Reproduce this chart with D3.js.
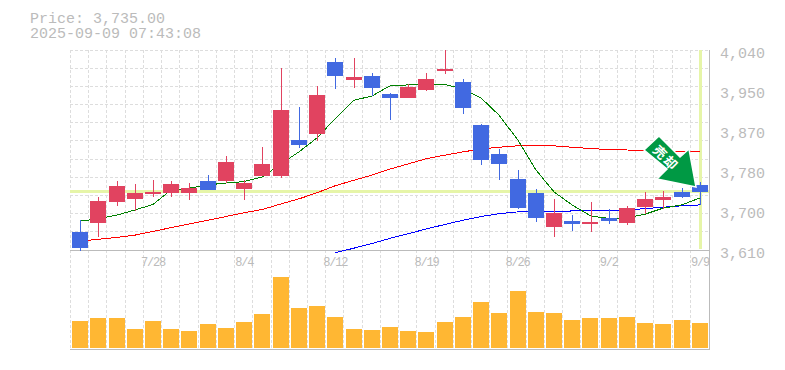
<!DOCTYPE html>
<html>

<head>
	<meta charset="utf-8" />
	<title>Price chart</title>
	<script src="https://d3js.org/d3.v7.min.js"></script>
	<style>
		html, body {
			margin: 0;
			padding: 0;
			background: #fff;
		}

		svg {
			display: block;
		}

		text {
			font-family: 'Liberation Mono', monospace;
			fill: #bbb;
		}

		.axis path, .axis line {
			display: none;
		}

		.grid {
			stroke: #ddd;
			stroke-dasharray: 3 2;
			shape-rendering: crispEdges;
		}

		.ma, .wick {
			shape-rendering: crispEdges;
		}
	</style>
</head>

<body>
	<div id="chart"></div>

	<script>
		var dates = ['7/22', '7/23', '7/24', '7/25', '7/28', '7/29', '7/30', '7/31', '8/1', '8/4', '8/5', '8/6', '8/7', '8/8', '8/12', '8/13', '8/14', '8/15', '8/18', '8/19', '8/20', '8/21', '8/22', '8/25', '8/26', '8/27', '8/28', '8/29', '9/1', '9/2', '9/3', '9/4', '9/5', '9/8', '9/9'];
		var dateTicks = ['7/28', '8/4', '8/12', '8/19', '8/26', '9/2', '9/9'];
		var priceTicks = [3610, 3696, 3782, 3868, 3954, 4040];

		var open = [3649, 3668, 3713, 3720, 3730, 3733, 3733, 3758, 3758, 3741, 3769, 3769, 3847, 3859, 4014, 3976, 3984, 3945, 3937, 3954, 3995, 3971, 3879, 3816, 3763, 3733, 3659, 3672, 3666, 3679, 3668, 3702, 3718, 3735, 3750];
		var close = [3614, 3715, 3748, 3733, 3735, 3752, 3743, 3739, 3799, 3754, 3795, 3911, 3836, 3943, 3984, 3982, 3958, 3937, 3960, 3978, 3999, 3915, 3804, 3795, 3700, 3679, 3690, 3666, 3670, 3672, 3700, 3720, 3724, 3724, 3735];
		var high = [3675, 3724, 3758, 3752, 3761, 3758, 3754, 3771, 3812, 3761, 3831, 4001, 3917, 3963, 4023, 4023, 3991, 3948, 3967, 3991, 4040, 3978, 3881, 3827, 3782, 3741, 3720, 3685, 3713, 3698, 3705, 3735, 3737, 3743, 3756];
		var low = [3608, 3638, 3705, 3694, 3724, 3724, 3718, 3739, 3754, 3718, 3769, 3765, 3829, 3844, 3956, 3958, 3941, 3890, 3937, 3952, 3988, 3902, 3793, 3761, 3698, 3670, 3638, 3651, 3649, 3666, 3664, 3687, 3698, 3722, 3707];

		var maShort = [3672, 3677, 3685, 3696, 3708, 3739, 3743, 3750, 3754, 3757, 3767, 3795, 3821, 3851, 3892, 3932, 3941, 3963, 3965, 3965, 3966, 3956, 3937, 3900, 3846, 3782, 3735, 3707, 3683, 3678, 3679, 3687, 3700, 3707, 3722];
		var maMid = [3629, 3633, 3637, 3642, 3650, 3658, 3666, 3674, 3682, 3690, 3697, 3709, 3720, 3733, 3748, 3760, 3771, 3784, 3795, 3806, 3814, 3821, 3827, 3831, 3834, 3834, 3834, 3831, 3828, 3826, 3825, 3824, 3823, 3822, 3821];
		var maLong = [null, null, null, null, null, null, null, null, null, null, null, null, null, null, 3604, 3614, 3624, 3635, 3645, 3655, 3665, 3674, 3682, 3688, 3692, 3692, 3692, 3694, 3695, 3695, 3696, 3699, 3702, 3705, 3707];

		var volume = [27, 30, 30, 19, 27, 19, 17, 24, 20, 26, 34, 71, 40, 42, 31, 19, 18, 21, 17, 16, 26, 31, 46, 35, 57, 36, 35, 28, 30, 30, 31, 25, 24, 28, 25];

		var priceText = 'Price: 3,735.00';
		var timeText = '2025-09-09 07:43:08';
		var lastPrice = 3735;
		var signalText = '売却';

		var w = 785;
		var h = 370;
		var left = 71;
		var right = 709;
		var red = '#e14360';
		var blue = '#4169e1';
		var lime = '#e6f5a8';

		var svg = d3.select('#chart')
			.append('svg')
			.attr('width', w)
			.attr('height', h);

		var x = d3.scaleBand()
			.domain(dates)
			.range([left, right])
			.paddingInner(0.12)
			.paddingOuter(0.06);

		var y = d3.scaleLinear()
			.domain([3610, 4040])
			.range([250, 50]);

		var yVol = d3.scaleLinear()
			.domain([0, 71])
			.range([348, 277]);

		var mid = function(d) {
			return Math.round(x(d) + x.bandwidth() / 2);
		};

		// grid, 11 rows above and one line per bar across both panels
		var step = (right - left) / dates.length;
		var rows = d3.range(0, 11);
		svg.selectAll('line.row')
			.data(rows)
			.join('line')
			.attr('class', 'grid row')
			.attr('x1', left - 1)
			.attr('x2', right)
			.attr('y1', function(d) {
				return y.range()[1] + d * 200 / 11;
			})
			.attr('y2', function(d) {
				return y.range()[1] + d * 200 / 11;
			});

		svg.selectAll('line.col')
			.data(d3.range(0, dates.length))
			.join('line')
			.attr('class', 'grid col')
			.attr('x1', function(d) {
				return left - 0.5 + d * step;
			})
			.attr('x2', function(d) {
				return left - 0.5 + d * step;
			})
			.attr('y1', 50)
			.attr('y2', 350);

		// current price cross
		svg.append('line')
			.attr('x1', left - 1)
			.attr('x2', right + 1)
			.attr('y1', Math.round(y(lastPrice)) - 0.5)
			.attr('y2', Math.round(y(lastPrice)) - 0.5)
			.attr('stroke', lime)
			.attr('stroke-width', 3);

		svg.append('line')
			.attr('x1', mid(dates[34]) + 0.5)
			.attr('x2', mid(dates[34]) + 0.5)
			.attr('y1', 50)
			.attr('y2', 249)
			.attr('stroke', lime)
			.attr('stroke-width', 3);

		// frame
		svg.append('path')
			.attr('d', 'M70,250.5H709.5M709.5,50V350M70,349.5H709.5')
			.attr('fill', 'none')
			.attr('stroke', '#bbb')
			.attr('stroke-width', 1);

		// moving averages
		var maLine = d3.line()
			.defined(function(d) {
				return d !== null;
			})
			.x(function(d, i) {
				return mid(dates[i]);
			})
			.y(function(d) {
				return y(d);
			});

		[[maLong, '#0000ff'], [maMid, '#ff0000'], [maShort, '#008000']].forEach(function(s) {
			svg.append('path')
				.attr('class', 'ma')
				.attr('d', maLine(s[0]))
				.attr('fill', 'none')
				.attr('stroke', s[1])
				.attr('stroke-width', 1);
		});

		// candles
		var color = function(i) {
			return close[i] >= open[i] ? red : blue;
		};

		svg.selectAll('line.wick')
			.data(dates)
			.join('line')
			.attr('class', 'wick')
			.attr('x1', function(d) {
				return mid(d) + 0.5;
			})
			.attr('x2', function(d) {
				return mid(d) + 0.5;
			})
			.attr('y1', function(d, i) {
				return y(high[i]);
			})
			.attr('y2', function(d, i) {
				return y(low[i]);
			})
			.attr('stroke', function(d, i) {
				return color(i);
			});

		svg.selectAll('rect.body')
			.data(dates)
			.join('rect')
			.attr('class', 'body')
			.attr('x', function(d) {
				return Math.round(x(d));
			})
			.attr('y', function(d, i) {
				return Math.round(y(Math.max(open[i], close[i])));
			})
			.attr('width', 16)
			.attr('height', function(d, i) {
				return Math.round(Math.abs(y(open[i]) - y(close[i])));
			})
			.attr('fill', function(d, i) {
				return color(i);
			});

		// volume
		svg.selectAll('rect.vol')
			.data(dates)
			.join('rect')
			.attr('class', 'vol')
			.attr('x', function(d) {
				return Math.round(x(d));
			})
			.attr('y', function(d, i) {
				return yVol(volume[i]);
			})
			.attr('width', 16)
			.attr('height', function(d, i) {
				return yVol(0) - yVol(volume[i]);
			})
			.attr('fill', '#ffb733');

		// signal arrow, drawn relative to the last bar
		var tip = [mid(dates[34]) - 4, Math.round(y(lastPrice)) - 5];
		var arrow = svg.append('g')
			.attr('transform', 'translate(' + tip[0] + ',' + tip[1] + ')');

		arrow.append('path')
			.attr('d', 'M0,0L-39,-8L-29,-18L-52,-37L-37,-51L-16,-30L-7,-38Z')
			.attr('fill', '#009944')
			.attr('stroke', '#fff')
			.attr('stroke-width', 1.5);

		arrow.append('text')
			.attr('transform', 'translate(-30,-29) rotate(45)')
			.attr('text-anchor', 'middle')
			.attr('dy', '0.38em')
			.style('font-family', "'Noto Sans CJK JP'")
			.style('font-size', '13px')
			.style('font-weight', 'bold')
			.style('letter-spacing', '2px')
			.style('fill', '#fff')
			.text(signalText);

		// axes
		svg.append('g')
			.attr('class', 'axis')
			.attr('transform', 'translate(713,3)')
			.call(d3.axisRight(y).tickValues(priceTicks).tickSize(0).tickPadding(7).tickFormat(function(d) {
				return d3.format(',')(Math.round(d / 10) * 10);
			}))
			.selectAll('text')
			.style('font-size', '15px')
			.style('fill', '#bbb');

		svg.append('g')
			.attr('class', 'axis')
			.attr('transform', 'translate(0,254)')
			.call(d3.axisBottom(x).tickValues(dateTicks).tickSize(0).tickPadding(3))
			.selectAll('text')
			.style('font-size', '12px')
			.style('letter-spacing', '-1.2px')
			.style('fill', '#bbb');

		// header
		svg.append('text')
			.attr('x', 30)
			.attr('y', 23)
			.style('font-size', '15px')
			.text(priceText);

		svg.append('text')
			.attr('x', 30)
			.attr('y', 38)
			.style('font-size', '15px')
			.text(timeText);
	</script>
</body>

</html>
